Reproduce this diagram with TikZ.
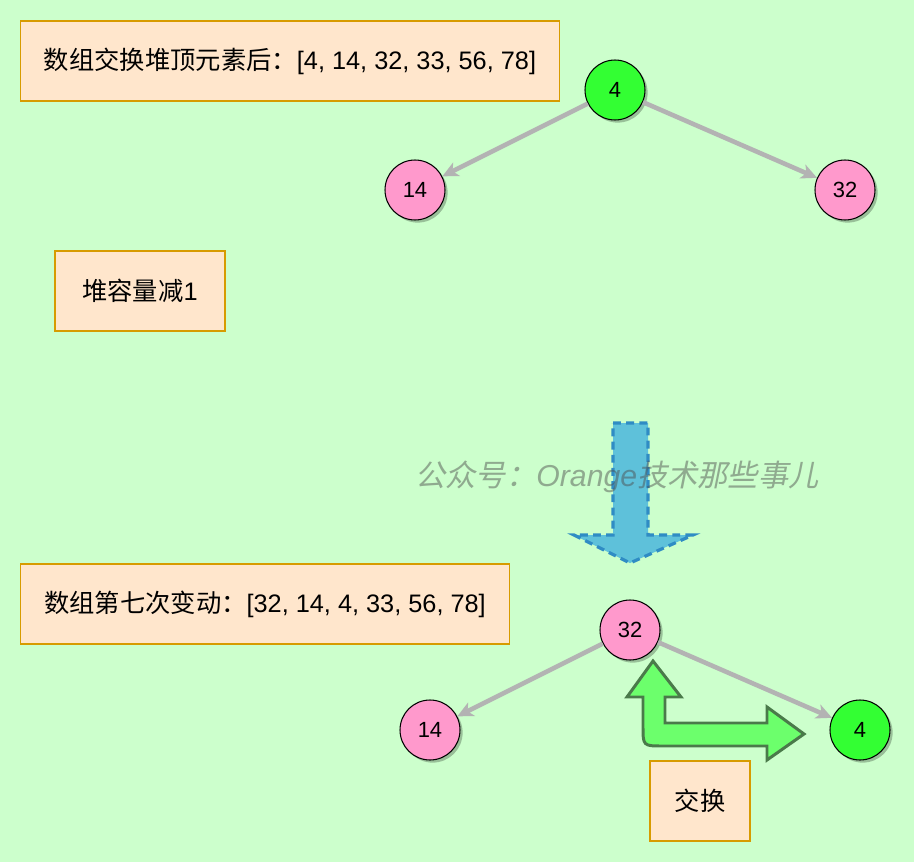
\documentclass[tikz,border=0pt]{standalone}
\usepackage{fontspec}
\setmainfont{Liberation Sans}
\newfontfamily\cjkfont{Noto Sans CJK SC}
\newfontfamily\cjkslant[FakeSlant=0.2]{Noto Sans CJK SC}
\usepackage{tikz}
\usetikzlibrary{arrows.meta,shadows}
\definecolor{bggreen}{HTML}{CCFFCC}
\definecolor{boxfill}{HTML}{FFE6CC}
\definecolor{boxline}{HTML}{D79B00}
\definecolor{topgreen}{HTML}{33FF33}
\definecolor{nodepink}{HTML}{FF99CC}
\definecolor{edgegray}{HTML}{B3B3B3}
\definecolor{downfill}{HTML}{5EC1DA}
\definecolor{downline}{HTML}{2F8CC4}
\definecolor{swapfill}{HTML}{6CFF6C}
\definecolor{swapline}{HTML}{4A7A4A}
\newcommand{\Zh}[1]{{\cjkfont #1}}

\begin{document}
\begin{tikzpicture}[
  x=0.02cm,y=-0.02cm,
  infobox/.style={draw=boxline,line width=0.6pt,fill=boxfill,minimum height=1.6cm,align=center,font=\fontsize{14.4}{17}\selectfont},
  heapnode/.style={circle,draw=black,line width=0.6pt,minimum size=1.2cm,inner sep=0pt,font=\fontsize{12.5}{14}\selectfont,
    drop shadow={shadow xshift=1.5pt,shadow yshift=-1.5pt,fill=black,opacity=0.25}},
  topnode/.style={heapnode,fill=topgreen},
  restnode/.style={heapnode,fill=nodepink},
  edge/.style={-{Stealth[length=9pt,width=8.5pt,inset=2.5pt]},line width=2.6pt,color=edgegray},
  downarrow/.style={fill=downfill,draw=downline,line width=1.8pt,dash pattern=on 4.5pt off 3pt},
  swaparrow/.style={fill=swapfill,draw=swapline,line width=1.7pt},
  watermark/.style={text=black!70,text opacity=0.47,font=\fontsize{17.2}{20}\selectfont}
]
\fill[bggreen] (0,0) rectangle (914,862);
\node[infobox,minimum width=10.8cm] (swapinfo) at (290,61) {\Zh{数组交换堆顶元素后：}[4, 14, 32, 33, 56, 78]};
\node[infobox,minimum width=3.4cm] (shrink) at (140,291) {\Zh{堆容量减}1};
\node[infobox,minimum width=9.8cm] (change) at (265,604) {\Zh{数组第七次变动：}[32, 14, 4, 33, 56, 78]};
\node[infobox,minimum width=2cm] (swaplabel) at (700,801) {\Zh{交换}};
\node[topnode] (rootA) at (615,90) {4};
\node[restnode] (leftA) at (415,190) {14};
\node[restnode] (rightA) at (845,190) {32};
\node[restnode] (rootB) at (630,630) {32};
\node[restnode] (leftB) at (430,730) {14};
\node[topnode] (rightB) at (860,730) {4};
\draw[edge] (rootA) -- (leftA);
\draw[edge] (rootA) -- (rightA);
\draw[edge] (rootB) -- (leftB);
\draw[edge] (rootB) -- (rightB);
\draw[downarrow] (613,423) -- (648,423) -- (648,535) -- (693,535) -- (630,563) -- (574,535) -- (613,535) -- cycle;
\node[watermark] (mark) at (617,477) {{\cjkslant 公众号：}{\itshape Orange}{\cjkslant 技术那些事儿}};
\draw[swaparrow] (653,661) -- (681,697) -- (665,697) -- (665,723) -- (767,723) -- (767,707) -- (804,734) -- (767,760) -- (767,746)
  -- (663,746) .. controls (643,746) .. (643,726) -- (643,697) -- (627,697) -- cycle;
\end{tikzpicture}
\end{document}
